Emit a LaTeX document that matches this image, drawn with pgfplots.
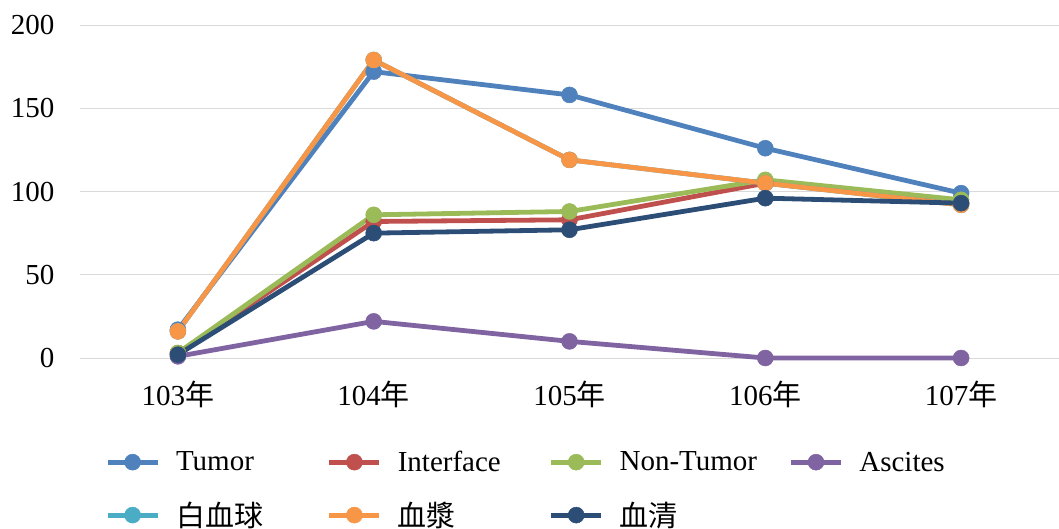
\documentclass[border=0pt]{standalone}
\usepackage{pgfplots}
\pgfplotsset{compat=1.18}
\usepackage{fontspec}
\setmainfont{Liberation Serif}
\newfontfamily\cjk{Noto Sans CJK TC}
\definecolor{cTumor}{HTML}{4F81BD}
\definecolor{cInter}{HTML}{C0504D}
\definecolor{cNon}{HTML}{9BBB59}
\definecolor{cAsc}{HTML}{8064A2}
\definecolor{cWbc}{HTML}{4BACC6}
\definecolor{cPlasma}{HTML}{F79646}
\definecolor{cSerum}{HTML}{2C4D75}
\definecolor{gridc}{HTML}{D9D9D9}
\begin{document}
\begin{tikzpicture}
\begin{axis}[
  name=ax,
  scale only axis,
  width=979pt, height=333pt,
  xmin=-0.5, xmax=4.5,
  ymin=0, ymax=200,
  ytick={0,50,100,150,200},
  xtick={0,1,2,3,4},
  xticklabels={103{\cjk 年},104{\cjk 年},105{\cjk 年},106{\cjk 年},107{\cjk 年}},
  axis line style={draw=none},
  ymajorgrids,
  grid style={gridc, line width=1pt},
  major tick length=0pt,
  tick label style={font=\fontsize{29}{33}\selectfont},
  /pgf/number format/assume math mode=true,
  yticklabel style={xshift=-22pt},
  xticklabel style={yshift=-19pt},
  clip=false,
  every axis plot/.append style={line width=4.8pt, mark=*, mark size=8pt, mark options={line width=0.5pt}},
  legend columns=4,
  legend style={
    at={(rel axis cs:0,0)}, anchor=north west,
    xshift=22pt, yshift=-89pt,
    draw=none, fill=none,
    font=\fontsize{29}{33}\selectfont,
    /tikz/every even column/.append style={column sep=0pt},
    row sep=25pt,
    nodes={text width=135pt, align=left, inner xsep=16pt},
  },
  legend cell align=left,
  legend image code/.code={
    \draw[#1, mark repeat=2, mark phase=2] plot coordinates {(0pt,0pt) (25pt,0pt) (50pt,0pt)};
  },
]
\addplot[color=cTumor] coordinates {(0,17) (1,172) (2,158) (3,126) (4,99)};
\addlegendentry{Tumor}
\addplot[color=cInter] coordinates {(0,3) (1,82) (2,83) (3,105) (4,93)};
\addlegendentry{Interface}
\addplot[color=cNon] coordinates {(0,3) (1,86) (2,88) (3,107) (4,95)};
\addlegendentry[text width=153pt]{Non-Tumor}
\addplot[color=cAsc] coordinates {(0,1) (1,22) (2,10) (3,0) (4,0)};
\addlegendentry{Ascites}
\addplot[color=cWbc] coordinates {(0,16) (1,179) (2,119) (3,105) (4,92)};
\addlegendentry{{\cjk 白血球}}
\addplot[color=cPlasma] coordinates {(0,16) (1,179) (2,119) (3,105) (4,92)};
\addlegendentry{{\cjk 血漿}}
\addplot[color=cSerum] coordinates {(0,2) (1,75) (2,77) (3,96) (4,93)};
\addlegendentry{{\cjk 血清}}
\end{axis}
\pgfresetboundingbox
\useasboundingbox ([xshift=-80pt,yshift=-170pt]ax.south west) rectangle ([yshift=25pt]ax.north east);
\end{tikzpicture}
\end{document}
